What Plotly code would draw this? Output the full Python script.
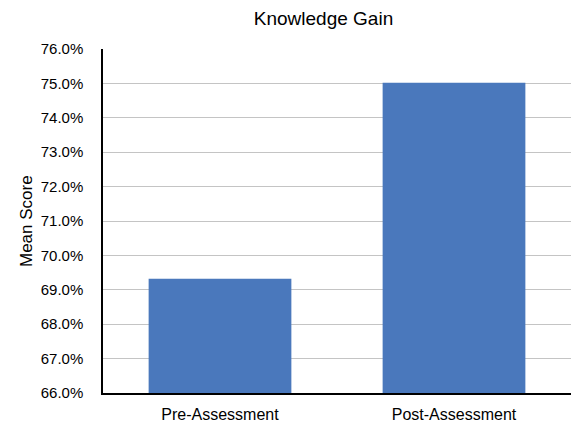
import plotly.graph_objects as go

categories = ["Pre-Assessment", "Post-Assessment"]
mean_scores = [0.6932, 0.7502]
y_ticks = [0.66, 0.67, 0.68, 0.69, 0.70, 0.71, 0.72, 0.73, 0.74, 0.75, 0.76]

W, H = 578, 423
L, R, T, B = 103, 7, 49, 30
pw = W - L - R

fig = go.Figure(go.Bar(x=categories, y=mean_scores, marker_color="#4a78bc",
                       marker_line_width=0, width=0.61))

fig.update_layout(
    width=W, height=H,
    margin=dict(l=L, r=R, t=T, b=B, autoexpand=False),
    paper_bgcolor="white", plot_bgcolor="white",
    font=dict(family="Liberation Sans, Arial, sans-serif", size=15, color="#000000"),
    title=dict(text="Knowledge Gain", x=323.5 / W, xanchor="center", xref="container",
               y=1 - 18 / H, yanchor="middle", yref="container",
               font=dict(size=19)),
    showlegend=False,
    annotations=[dict(text="Mean Score", textangle=-90, xref="paper", yref="paper",
                      x=(26 - L) / pw, y=0.5, xanchor="center", yanchor="middle",
                      showarrow=False, font=dict(size=17))],
)
fig.update_yaxes(range=[0.66, 0.76], tickvals=y_ticks, tickformat=".1%",
                 showgrid=True, gridcolor="#c4c4c4", gridwidth=1,
                 showline=True, linecolor="black", linewidth=1.5,
                 zeroline=False, ticks="", ticklabelstandoff=15, automargin=False,
                 tickfont=dict(size=15))
fig.update_xaxes(showline=True, linecolor="black", linewidth=1.5, ticks="",
                 ticklabelstandoff=6, automargin=False, tickfont=dict(size=16))

fig.write_html("out.html", config={"displayModeBar": False},
               post_script="document.body.style.margin='0';document.body.style.overflow='hidden';")
